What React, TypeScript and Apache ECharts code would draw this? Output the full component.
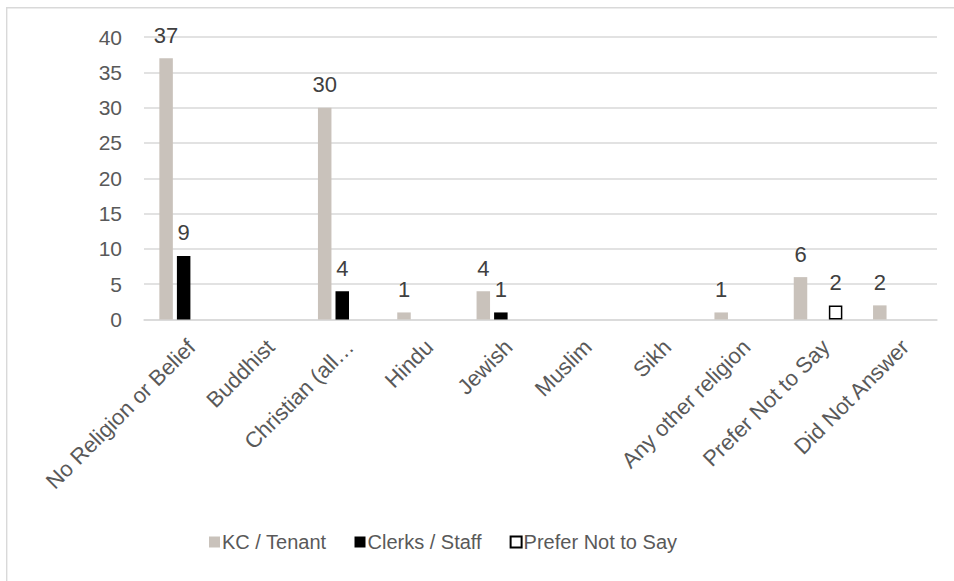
import React, { useEffect, useRef } from "react";
import * as echarts from "echarts";

const categories = [
  "No Religion or Belief",
  "Buddhist",
  "Christian (all…",
  "Hindu",
  "Jewish",
  "Muslim",
  "Sikh",
  "Any other religion",
  "Prefer Not to Say",
  "Did Not Answer",
];
const kcTenant = [37, 0, 30, 1, 4, 0, 0, 1, 6, 2];
const clerksStaff = [9, 0, 4, 0, 1, 0, 0, 0, 0, 0];
const preferNot = [0, 0, 0, 0, 0, 0, 0, 0, 2, 0];
const yTicks = { min: 0, max: 40, interval: 5 };

const FONT = "'Liberation Sans', Arial, sans-serif";

const nz = (arr: number[]) => arr.map((v) => (v === 0 ? null : v));

export default function App() {
  const ref = useRef<HTMLDivElement>(null);
  useEffect(() => {
    if (!ref.current) return;
    const chart = echarts.init(ref.current, undefined, { renderer: "svg" });
    const label = {
      show: true,
      position: "top",
      distance: 12,
      fontSize: 22,
      color: "#404040",
      fontFamily: FONT,
    };
    chart.setOption({
      animation: false,
      textStyle: { fontFamily: FONT },
      grid: { left: 144, right: 17, top: 37, bottom: 261.5 },
      graphic: [
        {
          type: "polyline",
          shape: { points: [[6.7, 1200], [6.7, 7.8], [1200, 7.8]] },
          style: { stroke: "#d9d9d9", lineWidth: 1.4, fill: "none" },
          silent: true,
        },
      ],
      legend: {
        bottom: 24,
        left: 204,
        itemWidth: 11,
        itemHeight: 11,
        itemGap: 28,
        selectedMode: false,
        textStyle: { fontSize: 20, color: "#595959", fontFamily: FONT, padding: [0, 0, 0, -3] },
        data: [
          { name: "KC / Tenant", icon: "rect" },
          { name: "Clerks / Staff", icon: "rect" },
          { name: "Prefer Not to Say", icon: "rect" },
        ],
      },
      xAxis: {
        type: "category",
        data: categories,
        axisLine: { show: true, lineStyle: { color: "#d9d9d9", width: 1.5 } },
        axisTick: { show: false },
        axisLabel: {
          rotate: 45,
          interval: 0,
          fontSize: 22,
          color: "#595959",
          fontFamily: FONT,
          margin: 16,
          verticalAlign: "top",
        },
      },
      yAxis: {
        type: "value",
        min: yTicks.min,
        max: yTicks.max,
        interval: yTicks.interval,
        axisLine: { show: false },
        axisTick: { show: false },
        splitLine: { lineStyle: { color: "#d9d9d9", width: 1.5 } },
        axisLabel: { fontSize: 21, color: "#595959", fontFamily: FONT, margin: 22 },
      },
      series: [
        {
          name: "KC / Tenant",
          type: "bar",
          data: nz(kcTenant),
          barWidth: 13.5,
          barGap: "30%",
          itemStyle: { color: "#c9c2bb" },
          label,
        },
        {
          name: "Clerks / Staff",
          type: "bar",
          data: nz(clerksStaff),
          barWidth: 13.5,
          barGap: "30%",
          itemStyle: { color: "#000000" },
          label,
        },
        {
          name: "Prefer Not to Say",
          type: "bar",
          data: nz(preferNot),
          barWidth: 13.5,
          barGap: "30%",
          itemStyle: { color: "#ffffff", borderColor: "#000000", borderWidth: 1.5 },
          label,
        },
      ],
    });
    return () => chart.dispose();
  }, []);
  return (
    <div
      ref={ref}
      style={{ position: "absolute", left: 0, top: 0, width: 954, height: 581, background: "#fff" }}
    />
  );
}
